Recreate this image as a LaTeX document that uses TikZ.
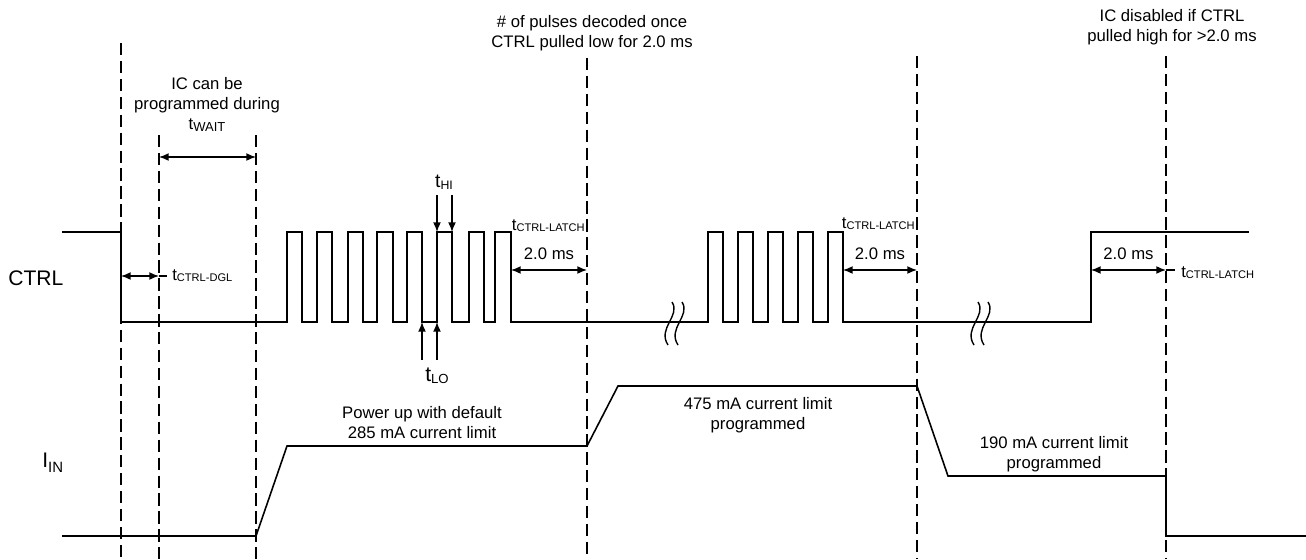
\documentclass[tikz,border=0pt]{standalone}
\usepackage{fontspec}
\setsansfont{Liberation Sans}
\usetikzlibrary{arrows.meta}
\newcommand\tsub[2][6.3]{t\raisebox{-.2ex}{\fontsize{#1}{#1}\selectfont #2}}

\begin{document}
\begin{tikzpicture}[x=0.02cm,y=-0.02cm,font=\sffamily\fontsize{9.5}{11.4}\selectfont,
   >={Latex[length=5.5pt,width=4.5pt]},
   wave/.style={line width=0.9pt},
   guide/.style={line width=1.6pt,dash pattern=on 7pt off 3.2pt},
   dim/.style={line width=0.8pt},
   note/.style={align=center,anchor=north,inner sep=0pt},
   breakmark/.pic={\draw[line width=0.8pt] (1,-20) .. controls (10,-6) and (-14,6) .. (-3,23);}]
   \useasboundingbox (0,0) rectangle (1306,559);
   % Levels
   \def\HI{232}
   \def\LO{322}
   % Guides
   \foreach \x/\top in {121/43,159/135,256/135,587/58,917/56,1166/56}
      \draw[guide] (\x,\top) -- (\x,559);
   % CTRL waveform
   \draw[wave] (62,\HI) -| (121,\LO)
      foreach \r/\f in {287/302,317/332,348/363,377/393,407/422,437/452,469/484,495/511} { -| (\r,\HI) -| (\f,\LO) }
      foreach \r/\f in {708/723,738/753,768/783,798/813,828/843} { -| (\r,\HI) -| (\f,\LO) }
      -| (1091,\HI) -- (1249,\HI);
   \pic at (671,322) {breakmark};
   \pic at (681,322) {breakmark};
   \pic at (977,322) {breakmark};
   \pic at (987,322) {breakmark};
   % I_IN waveform
   \draw[wave] (62,536) -- (256,536) -- (287,446) -- (587,446) -- (618,386) -- (917,386)
      -- (948,476) -- (1166,476) -- (1166,536) -- (1306,536);
   % Signal names
   \node[anchor=base west,inner sep=0pt,font=\sffamily\fontsize{12}{14}\selectfont] (ctrl) at (8,285) {CTRL};
   \node[anchor=base west,inner sep=0pt,font=\sffamily\fontsize{12}{14}\selectfont] (iin) at (42,467) {I\raisebox{-.45ex}{\fontsize{8.5}{8.5}\selectfont IN}};
   % Timing marks
   \draw[dim,<->] (121,276) -- (159,276);
   \draw[dim] (159,276) -- (167,276);
   \node[anchor=base west,inner sep=0pt] (dgl) at (172,280) {\tsub{CTRL-DGL}};
   \draw[dim,<->] (159,157) -- (256,157);
   \node[note] (wait) at (207,77) {IC can be\\programmed during\\\tsub[7.4]{WAIT}};
   \draw[dim,->] (437,195) -- (437,\HI);
   \draw[dim,->] (452,195) -- (452,\HI);
   \node[anchor=base,inner sep=0pt,font=\sffamily\fontsize{11}{13}\selectfont] (thi) at (444,187) {\tsub[7]{HI}};
   \draw[dim,->] (422,360) -- (422,\LO);
   \draw[dim,->] (437,360) -- (437,\LO);
   \node[anchor=base,inner sep=0pt,font=\sffamily\fontsize{12}{14}\selectfont] (tlo) at (437,381) {\tsub[7.5]{LO}};
   \draw[dim,<->] (511,270) -- node[above=5.5pt,inner sep=0pt] (msA) {2.0 ms} (587,270);
   \node[anchor=base east,inner sep=0pt] (latchA) at (585,230) {\tsub{CTRL-LATCH}};
   \draw[dim,<->] (843,270) -- node[above=5.5pt,inner sep=0pt] (msB) {2.0 ms} (917,270);
   \node[anchor=base east,inner sep=0pt] (latchB) at (915,228) {\tsub{CTRL-LATCH}};
   \draw[dim,<->] (1091,270) -- node[above=5.5pt,inner sep=0pt] (msC) {2.0 ms} (1166,270);
   \draw[dim] (1166,270) -- (1175,270);
   \node[anchor=base west,inner sep=0pt] (latchC) at (1181,277) {\tsub{CTRL-LATCH}};
   % Notes
   \node[note] (decode) at (592,15) {\# of pulses decoded once\\CTRL pulled low for 2.0 ms};
   \node[note] (disable) at (1172,9) {IC disabled if CTRL\\pulled high for >2.0 ms};
   \node[note] (lim285) at (422,406) {Power up with default\\285 mA current limit};
   \node[note] (lim475) at (758,397) {475 mA current limit\\programmed};
   \node[note] (lim190) at (1054,436) {190 mA current limit\\programmed};
\end{tikzpicture}
\end{document}
